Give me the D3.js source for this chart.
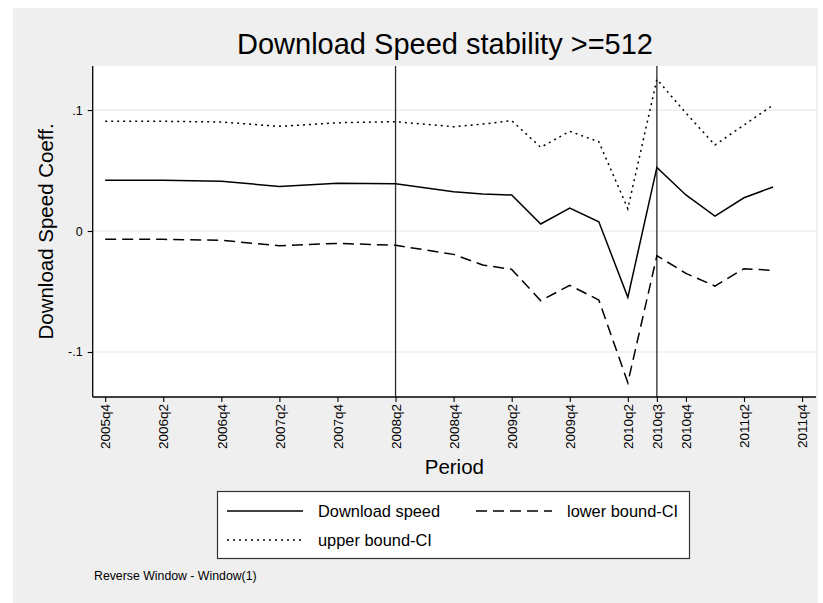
<!DOCTYPE html>
<html>
<head>
<meta charset="utf-8">
<script src="https://cdn.jsdelivr.net/npm/d3@7"></script>
<style>
  html, body { margin: 0; padding: 0; background: #ffffff; }
  svg { display: block; font-family: "Liberation Sans", Arial, Helvetica, sans-serif; }
</style>
</head>
<body>
<svg id="chart" width="823" height="603"></svg>
<script>
// ---- data ----
const periods = ["2005q4","2006q2","2006q4","2007q2","2007q4","2008q2","2008q4","2009q1","2009q2","2009q3","2009q4","2010q1","2010q2","2010q3","2010q4","2011q1","2011q2","2011q3"];
const downloadSpeed = [0.0419,0.0419,0.0411,0.0369,0.0394,0.0391,0.0325,0.0306,0.0298,0.0058,0.0190,0.0077,-0.0548,0.0526,0.0298,0.0124,0.0275,0.0364];
const lowerBound = [-0.0069,-0.0069,-0.0077,-0.0121,-0.0102,-0.0118,-0.0193,-0.0281,-0.0317,-0.0576,-0.0449,-0.0570,-0.1254,-0.0204,-0.0350,-0.0455,-0.0311,-0.0325];
const upperBound = [0.0907,0.0907,0.0901,0.0865,0.0895,0.0904,0.0862,0.0884,0.0912,0.0692,0.0824,0.0738,0.0184,0.1254,0.0975,0.0711,0.0876,0.1041];
const xTickLabels = ["2005q4","2006q2","2006q4","2007q2","2007q4","2008q2","2008q4","2009q2","2009q4","2010q2","2010q3","2010q4","2011q2","2011q4"];
const yTickValues = [-0.1, 0, 0.1];
const yTickLabels = ["-.1", "0", ".1"];
const refLines = ["2008q2", "2010q3"];
const seriesNames = ["Download speed", "lower bound-CI", "upper bound-CI"];

// quarter string -> quarter index relative to 2005q4
function qIndex(s) {
  const yr = +s.slice(0, 4), q = +s.slice(5);
  return (yr * 4 + q) - (2005 * 4 + 4);
}

const svg = d3.select("#chart");
const W = 823, H = 603;
const plot = { left: 92.7, right: 816, top: 66, bottom: 397 };
const FONT = "'Liberation Sans', Arial, sans-serif";

// background
svg.append("rect").attr("x", 13).attr("y", 8).attr("width", 805).attr("height", H - 8).attr("fill", "#efefef");
svg.append("rect").attr("x", plot.left).attr("y", plot.top)
  .attr("width", plot.right - plot.left).attr("height", plot.bottom - plot.top).attr("fill", "#ffffff");

const x = d3.scaleLinear().domain([-0.43, 24.48]).range([plot.left, plot.right]);
const y = d3.scaleLinear().domain([-0.1372, 0.1364]).range([plot.bottom, plot.top]);

// grid lines
svg.append("g").selectAll("line").data(yTickValues).join("line")
  .attr("x1", plot.left).attr("x2", plot.right)
  .attr("y1", d => y(d)).attr("y2", d => y(d))
  .attr("stroke", "#e8e8e8").attr("stroke-width", 1.2);

// reference lines
svg.append("g").selectAll("line").data(refLines).join("line")
  .attr("x1", d => x(qIndex(d))).attr("x2", d => x(qIndex(d)))
  .attr("y1", plot.top).attr("y2", plot.bottom)
  .attr("stroke", "#2b2b2b").attr("stroke-width", 1.3);

// y axis
const yAxis = d3.axisLeft(y).tickValues(yTickValues)
  .tickFormat((d, i) => yTickLabels[i]).tickSize(5).tickPadding(5);
const gy = svg.append("g").attr("transform", `translate(${plot.left},0)`).call(yAxis);
gy.select(".domain").attr("d", `M0,${plot.top}V${plot.bottom}`).attr("stroke", "#000").attr("stroke-width", 1.3);
gy.selectAll(".tick line").attr("stroke", "#000").attr("stroke-width", 1.1);
gy.selectAll(".tick text").attr("font-size", 12.5).attr("fill", "#000").attr("font-family", FONT);

// x axis
const xAxis = d3.axisBottom(x).tickValues(xTickLabels.map(qIndex))
  .tickFormat((d, i) => xTickLabels[i]).tickSize(5).tickPadding(4);
const gx = svg.append("g").attr("transform", `translate(0,${plot.bottom})`).call(xAxis);
gx.select(".domain").attr("d", `M${plot.left},0H${plot.right}`).attr("stroke", "#000").attr("stroke-width", 1.3);
gx.selectAll(".tick line").attr("stroke", "#000").attr("stroke-width", 1.1);
gx.selectAll(".tick text").attr("font-size", 13.5).attr("fill", "#000").attr("font-family", FONT)
  .attr("transform", "rotate(-90)")
  .attr("text-anchor", "end")
  .attr("x", -7).attr("y", 0).attr("dy", "0.35em");

// lines
const series = [
  { name: seriesNames[0], values: downloadSpeed, dash: null },
  { name: seriesNames[1], values: lowerBound, dash: "11,6" },
  { name: seriesNames[2], values: upperBound, dash: "2,4" }
];
const line = d3.line().x(d => x(d.q)).y(d => y(d.v));
series.forEach(s => {
  const pts = periods.map((p, i) => ({ q: qIndex(p), v: s.values[i] }));
  svg.append("path").datum(pts).attr("d", line)
    .attr("fill", "none").attr("stroke", "#000").attr("stroke-width", 1.5)
    .attr("stroke-dasharray", s.dash);
});

// title
svg.append("text").attr("x", 445).attr("y", 54)
  .attr("text-anchor", "middle").attr("font-size", 29).attr("fill", "#000")
  .text("Download Speed stability >=512");

// axis titles
svg.append("text").attr("transform", `translate(53,${(plot.top + plot.bottom) / 2}) rotate(-90)`)
  .attr("text-anchor", "middle").attr("font-size", 20.5).attr("fill", "#000")
  .text("Download Speed Coeff.");
svg.append("text").attr("x", (plot.left + plot.right) / 2).attr("y", 474)
  .attr("text-anchor", "middle").attr("font-size", 20.5).attr("fill", "#000")
  .text("Period");

// legend
const lg = svg.append("g");
lg.append("rect").attr("x", 217.5).attr("y", 491.5).attr("width", 472).attr("height", 67)
  .attr("fill", "#fff").attr("stroke", "#333").attr("stroke-width", 1.2);
const legendItems = [
  { s: series[0], lx: 227, ly: 511 },
  { s: series[1], lx: 476, ly: 511 },
  { s: series[2], lx: 227, ly: 540 }
];
legendItems.forEach(it => {
  lg.append("line").attr("x1", it.lx).attr("x2", it.lx + 76).attr("y1", it.ly).attr("y2", it.ly)
    .attr("stroke", "#000").attr("stroke-width", 1.5).attr("stroke-dasharray", it.s.dash);
  lg.append("text").attr("x", it.lx + 91).attr("y", it.ly).attr("dy", "0.35em")
    .attr("font-size", 16.4).attr("fill", "#000").text(it.s.name);
});

// note
svg.append("text").attr("x", 94).attr("y", 580).attr("font-size", 12.3).attr("fill", "#000")
  .text("Reverse Window - Window(1)");
</script>
</body>
</html>
